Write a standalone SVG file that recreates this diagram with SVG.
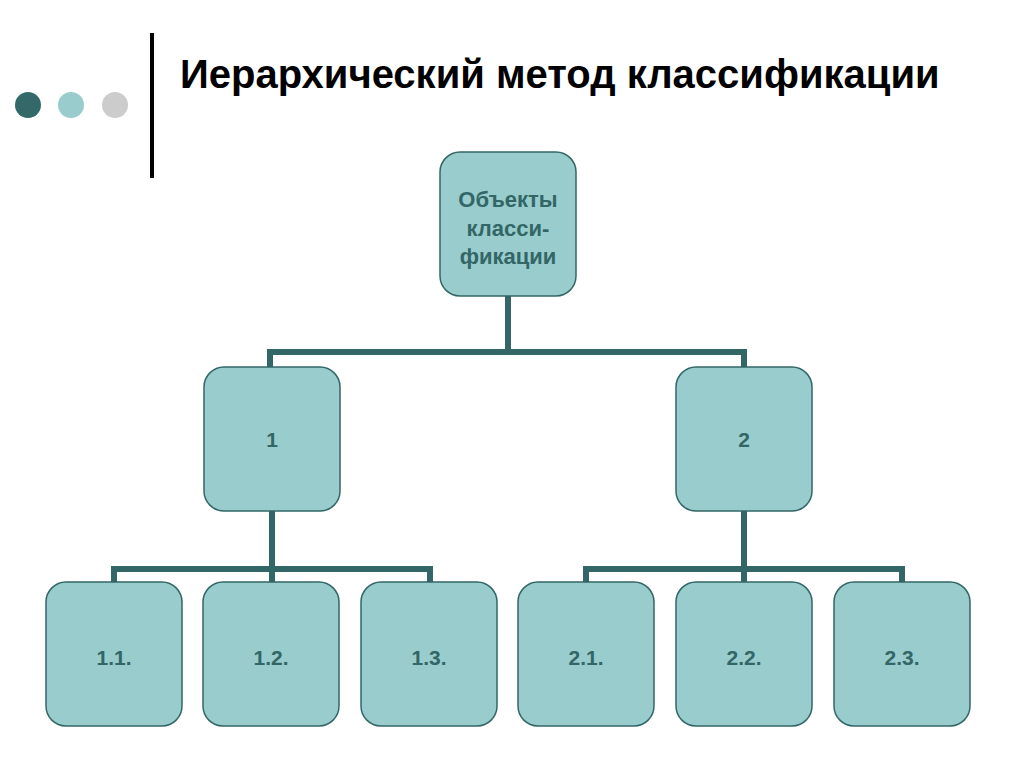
<svg xmlns="http://www.w3.org/2000/svg" width="1024" height="767" viewBox="0 0 1024 767">
<style>
.box{fill:#99cccc;stroke:#336666;stroke-width:1.5}
.lbl{font-family:"Liberation Sans",Arial,sans-serif;font-weight:bold;fill:#336666;text-anchor:middle}
.con{fill:none;stroke:#336666;stroke-width:6}
</style>
<rect width="1024" height="767" fill="#ffffff"/>
<g id="decor">
<circle cx="28" cy="105" r="13" fill="#336a69"/>
<circle cx="71" cy="105" r="13" fill="#99cccc"/>
<circle cx="115" cy="105" r="13" fill="#cccccc"/>
<rect x="150" y="33" width="4" height="145" fill="#000"/>
</g>
<text x="180" y="88" font-family="Liberation Sans,Arial,sans-serif" font-weight="bold" font-size="40" fill="#000">Иерархический метод классификации</text>
<g id="connectors">
<path class="con" d="M508 296 V352 M270 367 V352 H744 V367"/>
<path class="con" d="M272 511 V569 M114 582 V569 H430 V582 M272 569 V582"/>
<path class="con" d="M744 511 V569 M586 582 V569 H902 V582 M744 569 V582"/>
</g>
<g id="root">
<rect class="box" x="440" y="152" width="136" height="144" rx="20"/>
<text class="lbl" x="508" font-size="22"><tspan x="508" y="207">Объекты</tspan><tspan x="508" y="236">класси-</tspan><tspan x="508" y="264">фикации</tspan></text>
</g>
<g id="n1"><rect class="box" x="204" y="367" width="136" height="144" rx="20"/><text class="lbl" x="272" y="447" font-size="21">1</text></g>
<g id="n2"><rect class="box" x="676" y="367" width="136" height="144" rx="20"/><text class="lbl" x="744" y="447" font-size="21">2</text></g>
<g id="n11"><rect class="box" x="46" y="582" width="136" height="144" rx="20"/><text class="lbl" x="114" y="665" font-size="21">1.1.</text></g>
<g id="n12"><rect class="box" x="203" y="582" width="136" height="144" rx="20"/><text class="lbl" x="271" y="665" font-size="21">1.2.</text></g>
<g id="n13"><rect class="box" x="361" y="582" width="136" height="144" rx="20"/><text class="lbl" x="429" y="665" font-size="21">1.3.</text></g>
<g id="n21"><rect class="box" x="518" y="582" width="136" height="144" rx="20"/><text class="lbl" x="586" y="665" font-size="21">2.1.</text></g>
<g id="n22"><rect class="box" x="676" y="582" width="136" height="144" rx="20"/><text class="lbl" x="744" y="665" font-size="21">2.2.</text></g>
<g id="n23"><rect class="box" x="834" y="582" width="136" height="144" rx="20"/><text class="lbl" x="902" y="665" font-size="21">2.3.</text></g>
</svg>
